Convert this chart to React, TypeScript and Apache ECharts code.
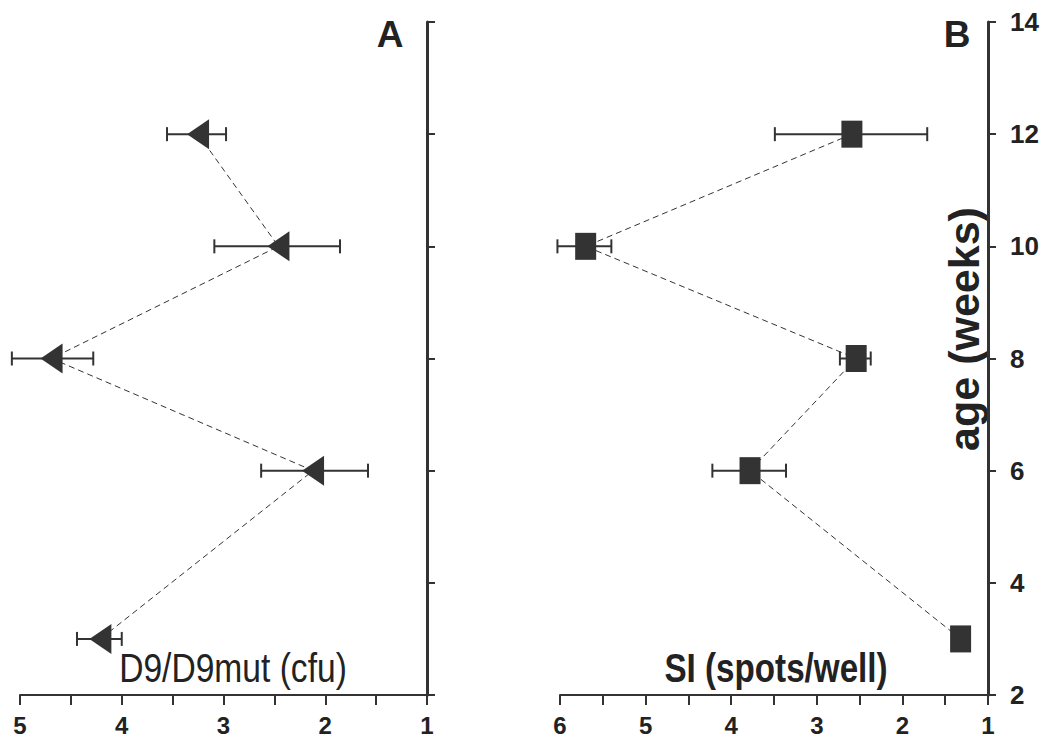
import React, { useEffect, useRef } from "react";
import * as echarts from "echarts";

// age in weeks (y axis, shared by both panels)
const weeks = [12, 10, 8, 6, 3];
// Panel A: D9/D9mut (cfu)
const cfuValues = [3.25, 2.46, 4.69, 2.12, 4.21];
const cfuErrLow = [2.975, 1.855, 4.28, 1.58, 4.0];
const cfuErrHigh = [3.555, 3.09, 5.08, 2.63, 4.44];
// Panel B: SI (spots/well)
const siValues = [2.59, 5.7, 2.54, 3.78, 1.32];
const siErrLow = [1.71, 5.4, 2.37, 3.36, 1.3];
const siErrHigh = [3.49, 6.03, 2.73, 4.22, 1.34];

const panelLabels = ["A", "B"];
const xAxisNames = ["D9/D9mut (cfu)", "SI (spots/well)"];
const yAxisName = "age (weeks)";

const INK = "#333333";
const FONT = "'Liberation Sans', Arial, sans-serif";

function errorRender(params: any, api: any) {
  const lo = api.value(0);
  const hi = api.value(1);
  const w = api.value(2);
  const p1 = api.coord([lo, w]);
  const p2 = api.coord([hi, w]);
  const cap = 7;
  const style = { stroke: INK, lineWidth: 2 };
  return {
    type: "group",
    children: [
      { type: "line", shape: { x1: p1[0], y1: p1[1], x2: p2[0], y2: p2[1] }, style },
      { type: "line", shape: { x1: p1[0], y1: p1[1] - cap, x2: p1[0], y2: p1[1] + cap }, style },
      { type: "line", shape: { x1: p2[0], y1: p2[1] - cap, x2: p2[0], y2: p2[1] + cap }, style },
    ],
  };
}

export default function App() {
  const ref = useRef<HTMLDivElement>(null);
  useEffect(() => {
    if (!ref.current) return;
    const chart = echarts.init(ref.current, null, { renderer: "svg" });

    const xAxisCommon = (gridIndex: number, max: number) => ({
      type: "value",
      gridIndex,
      min: 1,
      max,
      interval: 1,
      inverse: true,
      axisLine: { show: true, onZero: false, lineStyle: { color: INK, width: 2 } },
      axisTick: { show: true, length: 10, lineStyle: { color: INK, width: 2 } },
      minorTick: { show: true, splitNumber: 2, length: 10, lineStyle: { color: INK, width: 2 } },
      axisLabel: { color: "#222", fontFamily: FONT, fontWeight: "bold", fontSize: 24, margin: 18 },
      splitLine: { show: false },
      minorSplitLine: { show: false },
    });

    const yAxisCommon = (gridIndex: number, showLabel: boolean) => ({
      type: "value",
      gridIndex,
      position: "right",
      min: 2,
      max: 14,
      interval: 2,
      axisLine: { show: true, onZero: false, lineStyle: { color: INK, width: 3 } },
      axisTick: { show: true, length: 8, lineStyle: { color: INK, width: 2 } },
      axisLabel: {
        show: showLabel,
        color: "#222",
        fontFamily: FONT,
        fontWeight: "bold",
        fontSize: 26,
        margin: 22,
      },
      splitLine: { show: false },
    });

    chart.setOption({
      animation: false,
      backgroundColor: "#ffffff",
      grid: [
        { left: 20, top: 22, width: 407, height: 673 },
        { left: 560, top: 22, width: 428, height: 673 },
      ],
      xAxis: [xAxisCommon(0, 5), xAxisCommon(1, 6)],
      yAxis: [yAxisCommon(0, false), yAxisCommon(1, true)],
      graphic: [
        {
          type: "text",
          x: 390,
          y: 34,
          style: {
            text: panelLabels[0],
            font: `bold 37px ${FONT}`,
            fill: "#222",
            textAlign: "center",
            textVerticalAlign: "middle",
          },
        },
        {
          type: "text",
          x: 957,
          y: 34,
          style: {
            text: panelLabels[1],
            font: `bold 37px ${FONT}`,
            fill: "#222",
            textAlign: "center",
            textVerticalAlign: "middle",
          },
        },
        {
          type: "text",
          x: 233,
          y: 668,
          scaleX: 0.84,
          style: {
            text: xAxisNames[0],
            font: `40px ${FONT}`,
            fill: "#222",
            textAlign: "center",
            textVerticalAlign: "middle",
          },
        },
        {
          type: "text",
          x: 776,
          y: 668,
          scaleX: 0.83,
          style: {
            text: xAxisNames[1],
            font: `bold 40px ${FONT}`,
            fill: "#222",
            textAlign: "center",
            textVerticalAlign: "middle",
          },
        },
        {
          type: "text",
          x: 964,
          y: 329,
          rotation: Math.PI / 2,
          style: {
            text: yAxisName,
            font: `bold 43px ${FONT}`,
            fill: "#222",
            textAlign: "center",
            textVerticalAlign: "middle",
          },
        },
      ],
      series: [
        {
          type: "custom",
          xAxisIndex: 0,
          yAxisIndex: 0,
          z: 1,
          renderItem: errorRender,
          encode: { x: [0, 1], y: 2 },
          data: weeks.map((w, i) => [cfuErrLow[i], cfuErrHigh[i], w]),
        },
        {
          type: "line",
          xAxisIndex: 0,
          yAxisIndex: 0,
          z: 3,
          data: weeks.map((w, i) => [cfuValues[i], w]),
          symbol: "triangle",
          symbolRotate: 90,
          symbolSize: [30, 22],
          itemStyle: { color: INK },
          lineStyle: { color: INK, width: 1, type: [6, 4] },
        },
        {
          type: "custom",
          xAxisIndex: 1,
          yAxisIndex: 1,
          z: 1,
          renderItem: errorRender,
          encode: { x: [0, 1], y: 2 },
          data: weeks.map((w, i) => [siErrLow[i], siErrHigh[i], w]),
        },
        {
          type: "line",
          xAxisIndex: 1,
          yAxisIndex: 1,
          z: 3,
          data: weeks.map((w, i) => [siValues[i], w]),
          symbol: "rect",
          symbolSize: [21, 27],
          itemStyle: { color: INK },
          lineStyle: { color: INK, width: 1, type: [6, 4] },
        },
      ],
    });
    return () => chart.dispose();
  }, []);

  return (
    <div
      ref={ref}
      style={{ position: "fixed", left: 0, top: 0, width: 1049, height: 742, background: "#fff" }}
    />
  );
}
